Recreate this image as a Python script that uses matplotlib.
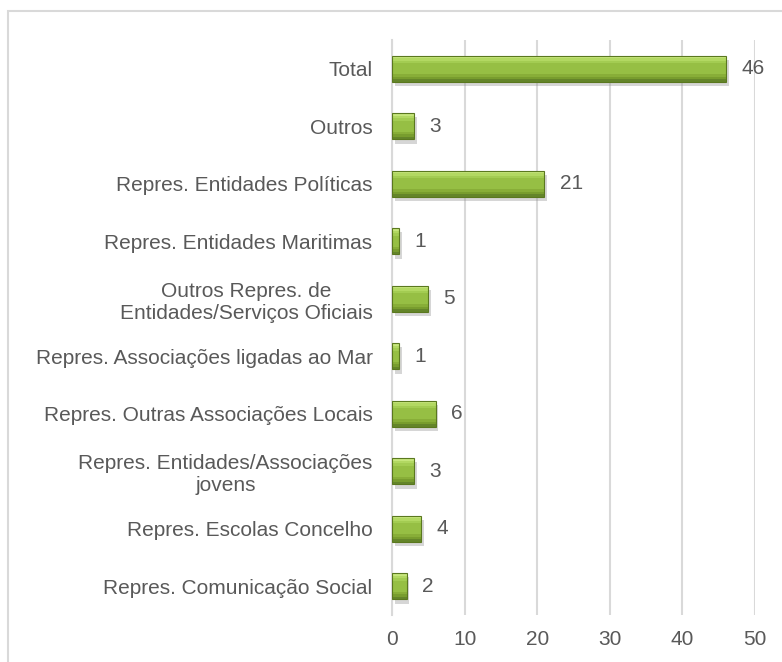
import matplotlib.pyplot as plt
import matplotlib.patheffects as pe
from matplotlib.patches import Rectangle

categorias = ['Repres. Comunicação Social',
              'Repres. Escolas Concelho',
              'Repres. Entidades/Associações\njovens',
              'Repres. Outras Associações Locais',
              'Repres. Associações ligadas ao Mar',
              'Outros Repres. de\nEntidades/Serviços Oficiais',
              'Repres. Entidades Maritimas',
              'Repres. Entidades Políticas',
              'Outros',
              'Total']
valores = [2, 4, 3, 6, 1, 5, 1, 21, 3, 46]
xticks = [0, 10, 20, 30, 40, 50]

plt.rcParams.update({'font.family': ['Liberation Sans', 'DejaVu Sans'],
                     'font.size': 15})
cinza = '#595959'

fig = plt.figure(figsize=(7.82, 6.62), dpi=100)
ax = fig.add_axes([0.5013, 0.0710, 0.4642, 0.8686])

pos = list(range(len(valores)))
h = 0.46
sombra = [pe.SimplePatchShadow(offset=(2, -3), shadow_rgbFace='#8c8c8c', alpha=0.35),
          pe.Normal()]
ax.barh(pos, valores, height=h, color='#96bf44', lw=0, zorder=3,
        path_effects=sombra)

# faixas do bisel (de cima para baixo)
faixas = [(0.40, 0.50, '#c6e67c'), (0.30, 0.40, '#b2d862'),
          (0.20, 0.30, '#a3cc52'), (-0.30, -0.20, '#88ae38'),
          (-0.40, -0.30, '#789d2e'), (-0.50, -0.40, '#64852a')]
for a, b, cor in faixas:
    ax.barh([p + h * (a + b) / 2 for p in pos], valores, height=h * (b - a),
            color=cor, lw=0, zorder=4)
ax.barh(pos, valores, height=h, fill=False, edgecolor='#5a781f', lw=0.8,
        zorder=5)

for p, v in zip(pos, valores):
    ax.annotate(str(v), (v, p), xytext=(11, 0), textcoords='offset points',
                va='center', ha='left', color=cinza)

ax.set_xlim(0, 50)
ax.set_ylim(-0.5, len(valores) - 0.5)
ax.set_xticks(xticks)
ax.set_yticks(pos)
ax.set_yticklabels(categorias, multialignment='center')
ax.tick_params(length=0, colors=cinza)
ax.tick_params(axis='x', pad=11)
ax.tick_params(axis='y', pad=14)
ax.grid(axis='x', color='#d9d9d9', lw=1.5, zorder=0)
for s in ['top', 'right', 'bottom']:
    ax.spines[s].set_visible(False)
ax.spines['left'].set_color('#d9d9d9')
ax.spines['left'].set_linewidth(1.5)

fig.patches.append(Rectangle((8 / 782, -0.1), 1.0, 1 - 11 / 662 + 0.1,
                             transform=fig.transFigure, fill=False,
                             ec='#d9d9d9', lw=1.5))

fig.savefig('out.png', dpi=100)
